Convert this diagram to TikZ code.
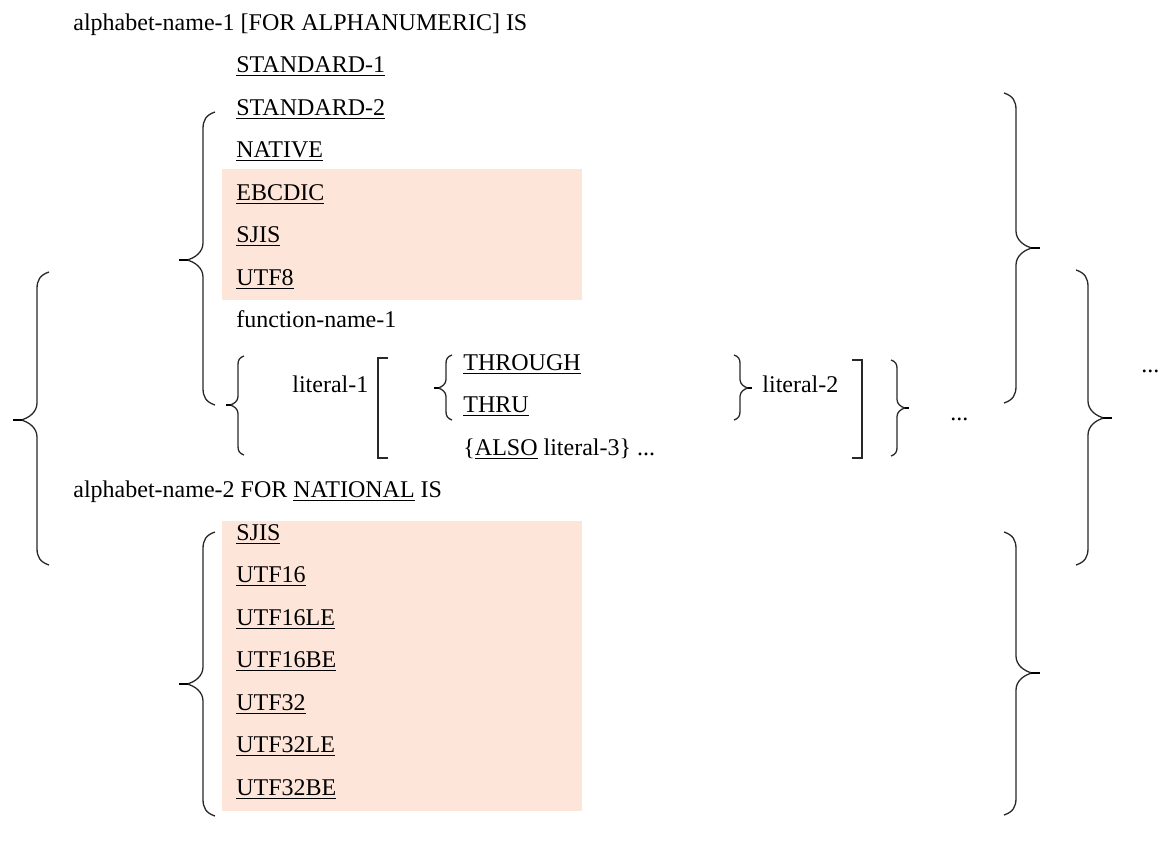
\documentclass[tikz,border=0pt]{standalone}
\usepackage{fontspec}
\setmainfont{Liberation Serif}
\definecolor{peachbox}{RGB}{253,229,218}
\definecolor{brcgray}{RGB}{40,40,40}
\newcommand{\kw}[1]{\underline{#1}}
\tikzset{txt/.style={anchor=base west,inner sep=0pt},
  brc/.style={draw=brcgray,line width=0.65pt},
  brctip/.style={draw=black,line width=1.4pt},
  brk/.style={draw=brcgray,line width=0.9pt}}
% left curly brace: [size]{stem x}{top}{middle}{bottom}
\newcommand{\lbrc}[5][1]{%
\begin{scope}[shift={(#2,0)}]
\draw[brc] (12*#1,#3) .. controls (3*#1,#3+3*#1) and (0,#3+8*#1) .. (0,#3+17*#1)
  -- (0,#4-17*#1) .. controls (0,#4-8*#1) and (-8*#1,#4-2*#1) .. (-16*#1,#4)
  .. controls (-8*#1,#4+2*#1) and (0,#4+8*#1) .. (0,#4+17*#1)
  -- (0,#5-17*#1) .. controls (0,#5-8*#1) and (3*#1,#5-3*#1) .. (12*#1,#5);
\draw[brctip] (-15*#1,#4) -- (-24*#1,#4);
\end{scope}}
% right curly brace, same arguments
\newcommand{\rbrc}[5][1]{%
\begin{scope}[shift={(#2,0)},xscale=-1]
\draw[brc] (12*#1,#3) .. controls (3*#1,#3+3*#1) and (0,#3+8*#1) .. (0,#3+17*#1)
  -- (0,#4-17*#1) .. controls (0,#4-8*#1) and (-8*#1,#4-2*#1) .. (-16*#1,#4)
  .. controls (-8*#1,#4+2*#1) and (0,#4+8*#1) .. (0,#4+17*#1)
  -- (0,#5-17*#1) .. controls (0,#5-8*#1) and (3*#1,#5-3*#1) .. (12*#1,#5);
\draw[brctip] (-15*#1,#4) -- (-24*#1,#4);
\end{scope}}
\begin{document}
\begin{tikzpicture}[x=0.5pt,y=-0.5pt,font=\fontsize{12}{14}\selectfont]
\useasboundingbox (0,0) rectangle (1162,841);
% shaded choices
\fill[peachbox] (222,169) rectangle (582,300);
\fill[peachbox] (222,521) rectangle (582,811);
% alphanumeric clause
\node[txt] (alnum) at (73,30) {alphabet-name-1 [FOR ALPHANUMERIC] IS};
\node[txt] (std1) at (236,72.5) {\kw{STANDARD-1}};
\node[txt] (std2) at (236,115) {\kw{STANDARD-2}};
\node[txt] (native) at (236,157.5) {\kw{NATIVE}};
\node[txt] (ebcdic) at (236,200) {\kw{EBCDIC}};
\node[txt] (sjisa) at (236,242.5) {\kw{SJIS}};
\node[txt] (utf8) at (236,285) {\kw{UTF8}};
\node[txt] (func) at (236,327.5) {function-name-1};
\node[txt] (lit1) at (292,392) {literal-1};
\node[txt] (through) at (463,370) {\kw{THROUGH}};
\node[txt] (thru) at (463,412.5) {\kw{THRU}};
\node[txt] (also) at (463,455) {\{\kw{ALSO} literal-3\} ...};
\node[txt] (lit2) at (762,392) {literal-2};
\node[txt] (dotsa) at (950,420) {...};
\node[txt] (dotsb) at (1141,372) {...};
% national clause
\node[txt] (natl) at (73,497.5) {alphabet-name-2 FOR \kw{NATIONAL} IS};
\node[txt] (sjisn) at (236,540) {\kw{SJIS}};
\node[txt] (utf16) at (236,582.5) {\kw{UTF16}};
\node[txt] (utf16le) at (236,625) {\kw{UTF16LE}};
\node[txt] (utf16be) at (236,667.5) {\kw{UTF16BE}};
\node[txt] (utf32) at (236,710) {\kw{UTF32}};
\node[txt] (utf32le) at (236,752.5) {\kw{UTF32LE}};
\node[txt] (utf32be) at (236,795) {\kw{UTF32BE}};
% braces and brackets
\lbrc{37}{272}{420}{565}
\lbrc{203}{112}{260}{405}
\lbrc{203}{532}{684}{816}
\lbrc[0.5]{238}{356}{405}{455}
\lbrc[0.5]{446}{355}{388}{420}
\rbrc[0.5]{740}{355}{388}{420}
\rbrc[0.5]{897}{360}{408}{456}
\rbrc{1016}{93}{248}{403}
\rbrc{1088}{270}{418}{565}
\rbrc{1016}{532}{673}{815}
\draw[brk] (388,358) -- (378,358) -- (378,458) -- (388,458);
\draw[brk] (852,360) -- (862,360) -- (862,458) -- (852,458);
\end{tikzpicture}
\end{document}
